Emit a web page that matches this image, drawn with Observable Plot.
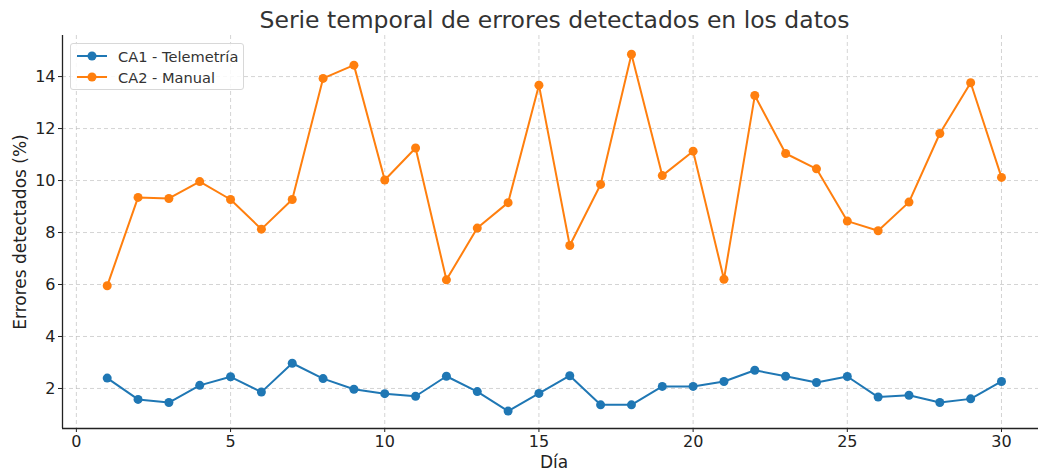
<!DOCTYPE html>
<html>
<head>
<meta charset="utf-8">
<script src="https://cdn.jsdelivr.net/npm/d3@7"></script>
<script src="https://cdn.jsdelivr.net/npm/@observablehq/plot@0.6"></script>
<style>
  body { margin: 0; background: #fff; font-family: "DejaVu Sans", sans-serif; }
  #wrap { position: relative; width: 1039px; height: 474px; }
  #title { height: 35px; line-height: 40px; text-align: center; font-size: 23.5px; color: #333; padding-left: 70px; }
  .lab { position: absolute; font-size: 17px; color: #222; }
  #legend { position: absolute; left: 70px; top: 43px; width: 172px; height: 45px; border: 1px solid #d8d8d8; border-radius: 3px; background: rgba(255,255,255,0.85); font-size: 14.6px; color: #333; }
  #legend .row { position: absolute; left: 5px; height: 20px; display: flex; align-items: center; }
  #legend svg { margin-right: 10px; }
</style>
</head>
<body>
<div id="wrap">
  <div id="title">Serie temporal de errores detectados en los datos</div>
  <div id="chart"></div>
  <div class="lab" style="left:540px; top:452px;">Día</div>
  <div class="lab" style="left:20px; top:232px; transform: translate(-50%,-50%) rotate(-90deg); white-space:nowrap;">Errores detectados (%)</div>
  <div id="legend"></div>
</div>
<script>
const days = d3.range(1, 31);
const ca1 = [2.40, 1.58, 1.46, 2.12, 2.45, 1.86, 2.97, 2.38, 1.97, 1.80,
             1.70, 2.47, 1.88, 1.13, 1.81, 2.49, 1.37, 1.37, 2.08, 2.08,
             2.27, 2.70, 2.47, 2.23, 2.46, 1.67, 1.74, 1.46, 1.60, 2.27];
const ca2 = [5.95, 9.35, 9.31, 9.96, 9.27, 8.13, 9.27, 13.93, 14.44, 10.02,
             11.25, 6.18, 8.17, 9.15, 13.67, 7.50, 9.85, 14.86, 10.19, 11.13,
             6.20, 13.27, 11.04, 10.45, 8.44, 8.07, 9.17, 11.81, 13.76, 10.12];
const seriesNames = ["CA1 - Telemetría", "CA2 - Manual"];
const colors = ["#1f77b4", "#ff7f0e"];
const xTicks = [0, 5, 10, 15, 20, 25, 30];
const yTicks = [2, 4, 6, 8, 10, 12, 14];
const xDomain = [-0.45, 31.2];
const yDomain = [0.46, 15.58];

const data = [
  ...days.map((d, i) => ({day: d, value: ca1[i], series: seriesNames[0]})),
  ...days.map((d, i) => ({day: d, value: ca2[i], series: seriesNames[1]}))
];

const chart = Plot.plot({
  width: 1039,
  height: 439,
  marginLeft: 62,
  marginRight: 1,
  marginTop: 0,
  marginBottom: 46,
  style: {fontFamily: "DejaVu Sans, sans-serif", fontSize: "16px", color: "#222", background: "#fff"},
  x: {domain: xDomain},
  y: {domain: yDomain},
  color: {domain: seriesNames, range: colors},
  marks: [
    Plot.gridX(xTicks, {stroke: "#bbb", strokeOpacity: 0.8, strokeDasharray: "4,3", strokeWidth: 0.8}),
    Plot.gridY(yTicks, {stroke: "#bbb", strokeOpacity: 0.8, strokeDasharray: "4,3", strokeWidth: 0.8}),
    Plot.axisX(xTicks, {tickSize: 4, tickPadding: 3, label: null, fontSize: 16}),
    Plot.axisY(yTicks, {tickSize: 4, tickPadding: 3, label: null, fontSize: 16}),
    Plot.ruleX([xDomain[0]], {stroke: "#222", strokeWidth: 1.3}),
    Plot.ruleY([yDomain[0]], {stroke: "#222", strokeWidth: 1.3}),
    Plot.line(data, {x: "day", y: "value", z: "series", stroke: "series", strokeWidth: 2}),
    Plot.dot(data, {x: "day", y: "value", fill: "series", r: 4.5})
  ]
});
document.getElementById("chart").appendChild(chart);

const legend = document.getElementById("legend");
seriesNames.forEach((name, i) => {
  const row = document.createElement("div");
  row.className = "row";
  row.style.top = (2 + i * 21) + "px";
  row.innerHTML = `<svg width="32" height="12"><line x1="1" y1="6" x2="31" y2="6" stroke="${colors[i]}" stroke-width="2"/><circle cx="16" cy="6" r="4.5" fill="${colors[i]}"/></svg><span>${name}</span>`;
  legend.appendChild(row);
});
</script>
</body>
</html>
